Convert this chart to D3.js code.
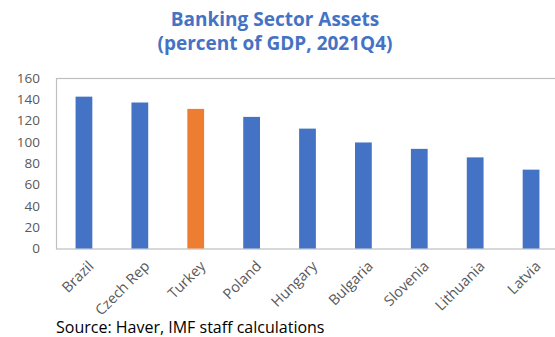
<!DOCTYPE html>
<html>
<head>
<meta charset="utf-8">
<script src="https://cdn.jsdelivr.net/npm/d3@7"></script>
<style>
  html, body { margin: 0; padding: 0; background: #fff; }
  svg { display: block; }
</style>
</head>
<body>
<script>
// Banking sector assets as a share of GDP, end-2021
const countries = ["Brazil", "Czech Rep", "Turkey", "Poland", "Hungary", "Bulgaria", "Slovenia", "Lithuania", "Latvia"];
const assets = [142.5, 137, 131, 123.5, 112.5, 99.5, 93.5, 85.5, 74];
const highlighted = ["Turkey"];
const yTicks = [0, 20, 40, 60, 80, 100, 120, 140, 160];
const titleLines = ["Banking Sector Assets", "(percent of GDP, 2021Q4)"];
const sourceNote = "Source: Haver, IMF staff calculations";

const W = 555, H = 337;
const plot = { left: 56, right: 559, top: 78, bottom: 248.5 };

const svg = d3.select("body").append("svg")
  .attr("width", W).attr("height", H);

const x = d3.scaleBand()
  .domain(countries)
  .range([plot.left, plot.right])
  .paddingInner(0.7)
  .paddingOuter(0.35);

const y = d3.scaleLinear()
  .domain([0, 160])
  .range([plot.bottom, plot.top]);

// Title
svg.append("g")
  .selectAll("text")
  .data(titleLines)
  .join("text")
  .attr("x", 275)
  .attr("y", (d, i) => 26 + i * 23.5)
  .attr("text-anchor", "middle")
  .attr("font-family", "'Open Sans', sans-serif")
  .attr("font-weight", "bold")
  .attr("font-size", 19)
  .attr("fill", "#4472C4")
  .text(d => d);

// Plot frame
svg.append("rect")
  .attr("x", plot.left + 0.5)
  .attr("y", plot.top + 0.5)
  .attr("width", plot.right - plot.left)
  .attr("height", plot.bottom - plot.top)
  .attr("fill", "none")
  .attr("stroke", "#bfbfbf")
  .attr("stroke-width", 1.2);

// Bars
svg.append("g")
  .selectAll("rect")
  .data(countries)
  .join("rect")
  .attr("x", d => x(d))
  .attr("width", x.bandwidth())
  .attr("y", (d, i) => y(assets[i]))
  .attr("height", (d, i) => y(0) - y(assets[i]))
  .attr("fill", d => highlighted.includes(d) ? "#ED7D31" : "#4472C4");

// Y axis labels
const yAxis = d3.axisLeft(y).tickValues(yTicks).tickSize(0).tickPadding(0);
const gy = svg.append("g")
  .attr("transform", `translate(${40},0)`)
  .call(yAxis);
gy.select(".domain").remove();
gy.selectAll("text")
  .attr("font-family", "'Open Sans', sans-serif")
  .attr("font-size", 13.5)
  .attr("fill", "#595959");

// Category labels, rotated
const xAxis = d3.axisBottom(x).tickSize(0).tickPadding(0);
const gx = svg.append("g")
  .attr("transform", `translate(0,${plot.bottom})`)
  .call(xAxis);
gx.select(".domain").remove();
gx.selectAll(".tick text")
  .attr("font-family", "'Open Sans', sans-serif")
  .attr("font-size", 14.5)
  .attr("fill", "#595959")
  .attr("text-anchor", "end")
  .attr("dy", "0.35em")
  .attr("transform", "translate(7,15) rotate(-45)");

// Source note
svg.append("text")
  .attr("x", 56)
  .attr("y", 333)
  .attr("font-family", "'Open Sans', sans-serif")
  .attr("font-size", 16)
  .attr("fill", "#000")
  .text(sourceNote);
</script>
</body>
</html>
